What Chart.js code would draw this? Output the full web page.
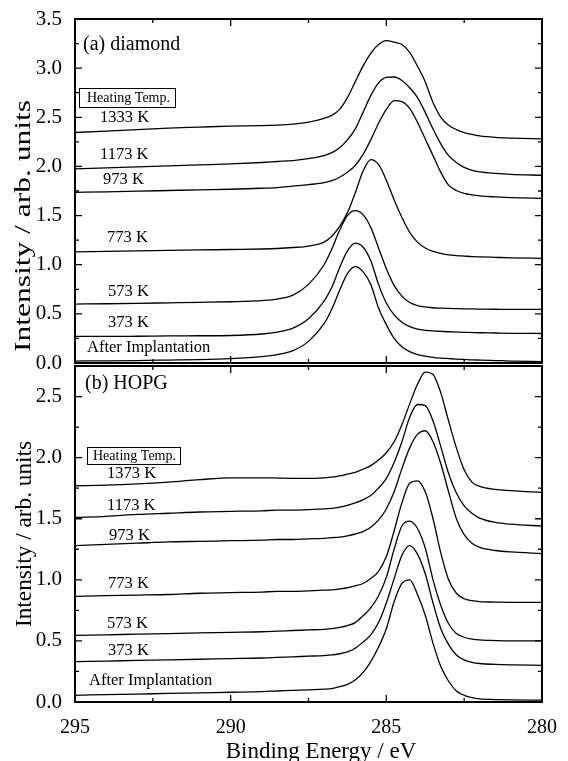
<!DOCTYPE html>
<html>
<head>
<meta charset="utf-8">
<script src="https://cdn.jsdelivr.net/npm/chart.js@4.4.1/dist/chart.umd.min.js"></script>
<style>
  html, body { margin: 0; padding: 0; background: #fff; }
  #wrap { position: relative; width: 568px; height: 761px; overflow: hidden; background: #fff; }
  #wrap canvas { position: absolute; left: 0; top: 0; }
</style>
</head>
<body>
<div id="wrap">
  <canvas id="diamond" width="568" height="761"></canvas>
  <canvas id="hopg" width="568" height="761"></canvas>
</div>
<script>
// binding energy grid (eV), shared by every spectrum
const energy = [295, 294, 293, 292, 291, 290, 289, 288.5, 288, 287.5, 287, 286.75, 286.5, 286.25, 286,
    285.75, 285.5, 285.25, 285, 284.75, 284.5, 284.25, 284, 283.75, 283.5, 283.25, 283,
    282.75, 282.5, 282.25, 282, 281.5, 281, 280];

// (a) diamond
const diaAfter = [0.02, 0.022, 0.025, 0.03, 0.035, 0.045, 0.065, 0.085, 0.125, 0.22, 0.40, 0.55, 0.74, 0.91, 0.98,
    0.93, 0.80, 0.56, 0.39, 0.25, 0.165, 0.115, 0.085, 0.07, 0.058, 0.05, 0.045, 0.04, 0.036, 0.032, 0.03, 0.025, 0.02, 0.015];
const dia373 = [0.27, 0.27, 0.272, 0.275, 0.277, 0.28, 0.295, 0.315, 0.355, 0.45, 0.63, 0.77, 0.97, 1.14, 1.22,
    1.18, 1.04, 0.80, 0.61, 0.49, 0.415, 0.37, 0.345, 0.333, 0.326, 0.322, 0.318, 0.315, 0.312, 0.31, 0.308, 0.305, 0.302, 0.30];
const dia573 = [0.60, 0.603, 0.607, 0.612, 0.617, 0.623, 0.635, 0.65, 0.69, 0.80, 1.00, 1.16, 1.35, 1.50, 1.55,
    1.51, 1.38, 1.17, 0.96, 0.79, 0.68, 0.615, 0.585, 0.57, 0.562, 0.558, 0.555, 0.553, 0.551, 0.55, 0.549, 0.547, 0.545, 0.545];
const dia773 = [1.13, 1.135, 1.14, 1.145, 1.15, 1.155, 1.16, 1.165, 1.175, 1.19, 1.23, 1.29, 1.39, 1.53, 1.73,
    1.95, 2.07, 2.02, 1.86, 1.66, 1.48, 1.33, 1.23, 1.17, 1.135, 1.115, 1.10, 1.093, 1.088, 1.083, 1.08, 1.075, 1.07, 1.065];
const dia973 = [1.737, 1.742, 1.748, 1.755, 1.762, 1.768, 1.778, 1.785, 1.80, 1.815, 1.835, 1.855, 1.89, 1.94, 2.01,
    2.12, 2.27, 2.44, 2.58, 2.67, 2.66, 2.59, 2.45, 2.28, 2.11, 1.94, 1.81, 1.755, 1.725, 1.71, 1.70, 1.69, 1.683, 1.675];
const dia1173 = [1.975, 1.985, 1.995, 2.005, 2.015, 2.025, 2.04, 2.05, 2.06, 2.08, 2.11, 2.14, 2.19, 2.27, 2.38,
    2.55, 2.72, 2.85, 2.905, 2.91, 2.875, 2.80, 2.70, 2.55, 2.38, 2.23, 2.11, 2.04, 1.99, 1.96, 1.945, 1.93, 1.92, 1.91];
const dia1333 = [2.345, 2.36, 2.375, 2.39, 2.40, 2.41, 2.415, 2.42, 2.43, 2.45, 2.49, 2.52, 2.58, 2.70, 2.86,
    3.02, 3.15, 3.24, 3.28, 3.265, 3.24, 3.16, 3.02, 2.86, 2.65, 2.50, 2.42, 2.375, 2.345, 2.325, 2.31, 2.295, 2.288, 2.28];

// (b) HOPG
const hopgAfter = [0.055, 0.06, 0.065, 0.07, 0.075, 0.08, 0.085, 0.09, 0.095, 0.10, 0.105, 0.11, 0.125, 0.145, 0.18,
    0.24, 0.33, 0.45, 0.60, 0.82, 0.97, 1.00, 0.88, 0.71, 0.48, 0.29, 0.17, 0.09, 0.055, 0.035, 0.025, 0.02, 0.017, 0.015];
const hopg373 = [0.33, 0.335, 0.34, 0.345, 0.35, 0.355, 0.36, 0.365, 0.37, 0.375, 0.38, 0.385, 0.395, 0.41, 0.44,
    0.49, 0.55, 0.65, 0.81, 1.01, 1.20, 1.28, 1.21, 1.05, 0.81, 0.60, 0.47, 0.385, 0.345, 0.325, 0.315, 0.308, 0.304, 0.30];
const hopg573 = [0.545, 0.55, 0.555, 0.56, 0.565, 0.57, 0.575, 0.58, 0.585, 0.59, 0.595, 0.60, 0.61, 0.625, 0.65,
    0.705, 0.77, 0.87, 1.02, 1.25, 1.44, 1.48, 1.42, 1.26, 1.00, 0.79, 0.64, 0.56, 0.53, 0.515, 0.508, 0.503, 0.50, 0.50];
const hopg773 = [0.865, 0.87, 0.875, 0.88, 0.89, 0.895, 0.90, 0.905, 0.905, 0.91, 0.915, 0.917, 0.925, 0.935, 0.95,
    0.97, 1.01, 1.07, 1.19, 1.40, 1.63, 1.79, 1.81, 1.72, 1.50, 1.22, 1.00, 0.89, 0.845, 0.83, 0.822, 0.818, 0.816, 0.815];
const hopg973 = [1.28, 1.29, 1.30, 1.31, 1.315, 1.32, 1.325, 1.33, 1.33, 1.335, 1.34, 1.345, 1.35, 1.36, 1.375,
    1.395, 1.43, 1.49, 1.58, 1.72, 1.91, 2.08, 2.19, 2.22, 2.13, 1.95, 1.72, 1.50, 1.37, 1.30, 1.265, 1.24, 1.228, 1.215];
const hopg1173 = [1.51, 1.52, 1.535, 1.545, 1.555, 1.56, 1.565, 1.57, 1.57, 1.575, 1.58, 1.585, 1.595, 1.61, 1.63,
    1.655, 1.69, 1.75, 1.83, 1.96, 2.13, 2.33, 2.435, 2.425, 2.30, 2.09, 1.87, 1.71, 1.605, 1.545, 1.505, 1.47, 1.455, 1.44];
const hopg1373 = [1.77, 1.775, 1.785, 1.80, 1.82, 1.835, 1.835, 1.833, 1.83, 1.83, 1.835, 1.84, 1.85, 1.865, 1.88,
    1.905, 1.935, 1.98, 2.04, 2.13, 2.27, 2.44, 2.60, 2.70, 2.68, 2.53, 2.30, 2.08, 1.90, 1.80, 1.765, 1.74, 1.73, 1.715];

const diaSeries = [diaAfter, dia373, dia573, dia773, dia973, dia1173, dia1333];
const hopgSeries = [hopgAfter, hopg373, hopg573, hopg773, hopg973, hopg1173, hopg1373];
const diaTemps = ['After Implantation', '373 K', '573 K', '773 K', '973 K', '1173 K', '1333 K'];
const hopgTemps = ['After Implantation', '373 K', '573 K', '773 K', '973 K', '1173 K', '1373 K'];

const SERIF = "'Liberation Serif', 'Times New Roman', serif";

// label positions on the page (left x, middle y)
const diaLabelPos = [[87, 348], [108, 323], [108, 292], [107, 238], [103, 180], [100, 155], [100, 118]];
const hopgLabelPos = [[89, 681], [108, 651], [107, 624], [108, 584], [109, 536], [107, 506], [107, 474]];

function toPoints(values) {
    return values.map((v, i) => ({ x: energy[i], y: v }));
}

// frame with inward ticks on all four sides
const framePlugin = {
    id: 'frame',
    afterDatasetsDraw(chart) {
        const { ctx, chartArea: a } = chart;
        const xs = chart.scales.x, ys = chart.scales.y;
        ctx.save();
        ctx.strokeStyle = '#000';
        ctx.lineWidth = 1.3;
        ctx.beginPath();
        xs.ticks.forEach(t => {
            const px = xs.getPixelForValue(t.value);
            ctx.moveTo(px, a.top); ctx.lineTo(px, a.top + 7);
            ctx.moveTo(px, a.bottom); ctx.lineTo(px, a.bottom - 7);
            const m = t.value + 2.5;
            if (m < xs.max) {
                const pm = xs.getPixelForValue(m);
                ctx.moveTo(pm, a.top); ctx.lineTo(pm, a.top + 4);
                ctx.moveTo(pm, a.bottom); ctx.lineTo(pm, a.bottom - 4);
            }
        });
        ys.ticks.forEach(t => {
            const py = ys.getPixelForValue(t.value);
            ctx.moveTo(a.left, py); ctx.lineTo(a.left + 7, py);
            ctx.moveTo(a.right, py); ctx.lineTo(a.right - 7, py);
            const m = t.value + 0.25;
            if (m < ys.max) {
                const pm = ys.getPixelForValue(m);
                ctx.moveTo(a.left, pm); ctx.lineTo(a.left + 4, pm);
                ctx.moveTo(a.right, pm); ctx.lineTo(a.right - 4, pm);
            }
        });
        ctx.stroke();
        ctx.lineWidth = 2;
        ctx.strokeRect(a.left, a.top, a.right - a.left, a.bottom - a.top);
        ctx.restore();
    }
};

function vTitle(ctx, text, cx, cy, len) {
    ctx.save();
    ctx.translate(cx, cy);
    ctx.rotate(-Math.PI / 2);
    ctx.font = '23px ' + SERIF;
    const w = ctx.measureText(text).width;
    ctx.scale(len / w, 1);
    ctx.textAlign = 'center';
    ctx.textBaseline = 'middle';
    ctx.fillStyle = '#000';
    ctx.fillText(text, 0, 0);
    ctx.restore();
}

function textPlugin(p) {
    return {
        id: 'panelText',
        afterDraw(chart) {
            const ctx = chart.ctx;
            ctx.save();
            ctx.fillStyle = '#000';
            ctx.textAlign = 'left';
            ctx.textBaseline = 'alphabetic';
            ctx.font = '20px ' + SERIF;
            ctx.fillText(p.name, p.nameX, p.nameY);

            ctx.textBaseline = 'middle';
            ctx.font = '16.5px ' + SERIF;
            p.temps.forEach((t, i) => ctx.fillText(t, p.pos[i][0], p.pos[i][1]));

            // "Heating Temp." box
            ctx.strokeStyle = '#000';
            ctx.lineWidth = 1;
            ctx.strokeRect(p.box[0] + 0.5, p.box[1] + 0.5, p.box[2], p.box[3]);
            ctx.font = '14px ' + SERIF;
            ctx.fillText('Heating Temp.', p.box[0] + p.textDx, p.box[1] + p.box[3] / 2 + 1);
            ctx.restore();

            vTitle(ctx, 'Intensity / arb. units', p.titleX, p.titleY, p.titleLen);

            if (p.xTitle) {
                ctx.save();
                ctx.font = '23px ' + SERIF;
                ctx.textAlign = 'center';
                ctx.textBaseline = 'alphabetic';
                ctx.fillStyle = '#000';
                ctx.fillText('Binding Energy / eV', 321, 758);
                ctx.restore();
            }
        }
    };
}

function makePanel(id, series, yMax, padTop, padBottom, showX, text) {
    return new Chart(document.getElementById(id), {
        type: 'line',
        data: {
            datasets: series.map((s, i) => ({
                label: text.temps[i],
                data: toPoints(s),
                borderColor: '#000',
                borderWidth: 1.3,
                pointRadius: 0,
                fill: false,
                cubicInterpolationMode: 'monotone'
            }))
        },
        options: {
            responsive: false,
            animation: false,
            devicePixelRatio: 1,
            layout: { padding: { left: 0, right: 26, top: padTop, bottom: padBottom } },
            plugins: { legend: { display: false }, tooltip: { enabled: false } },
            scales: {
                x: {
                    type: 'linear',
                    min: 280,
                    max: 295,
                    reverse: true,
                    display: showX,
                    grid: { display: false },
                    border: { display: false },
                    ticks: {
                        stepSize: 5,
                        autoSkip: false,
                        maxRotation: 0,
                        padding: 6,
                        color: '#000',
                        font: { family: SERIF, size: 20 }
                    },
                    afterFit: function (scale) { scale.height = showX ? 59 : 0; }
                },
                y: {
                    min: 0,
                    max: yMax,
                    grid: { display: false },
                    border: { display: false },
                    ticks: {
                        stepSize: 0.5,
                        includeBounds: false,
                        padding: 5,
                        color: '#000',
                        font: { family: SERIF, size: 21 },
                        callback: v => v.toFixed(1)
                    },
                    afterFit: function (scale) { scale.width = 75; }
                }
            }
        },
        plugins: [framePlugin, textPlugin(text)]
    });
}

// top panel: plot area 19..363 px
makePanel('diamond', diaSeries, 3.5, 19, 761 - 363, false, {
    name: '(a) diamond', nameX: 83, nameY: 50,
    temps: diaTemps, pos: diaLabelPos,
    box: [79, 88, 96, 19], textDx: 8,
    titleX: 24, titleY: 226, titleLen: 252
});

// bottom panel: plot area 366..702 px
makePanel('hopg', hopgSeries, 2.75, 366, 0, true, {
    name: '(b) HOPG', nameX: 85, nameY: 389,
    temps: hopgTemps, pos: hopgLabelPos,
    box: [87, 447, 93, 17], textDx: 6,
    titleX: 25, titleY: 534, titleLen: 186,
    xTitle: true
});
</script>
</body>
</html>
